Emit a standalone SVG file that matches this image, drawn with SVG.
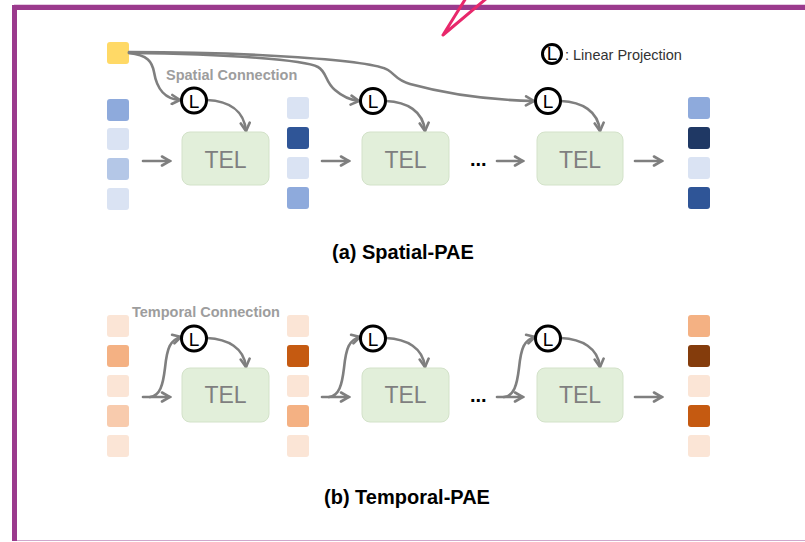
<svg xmlns="http://www.w3.org/2000/svg" width="805" height="542" viewBox="0 0 805 542">
<style>
.tel{fill:#e2efda;stroke:#d3e2c9;stroke-width:1}
.telt{font-family:"Liberation Sans",Arial,sans-serif;font-size:23px;fill:#7f7f7f;text-anchor:middle}
.con{fill:none;stroke:#7f7f7f;stroke-width:2.6;stroke-linecap:round}
.lc{fill:#fff;stroke:#000;stroke-width:3}
.lt{font-family:"Liberation Sans",Arial,sans-serif;font-size:19px;fill:#000;text-anchor:middle}
.lab{font-family:"Liberation Sans",Arial,sans-serif;font-size:14.5px;font-weight:bold;fill:#9d9d9d}
.title{font-family:"Liberation Sans",Arial,sans-serif;font-size:20px;font-weight:bold;fill:#000}
.dots{font-family:"Liberation Sans",Arial,sans-serif;font-size:20px;font-weight:bold;fill:#000}
</style>
<defs>
<marker id="ah" markerUnits="userSpaceOnUse" viewBox="0 0 12 12" refX="10" refY="6" markerWidth="12" markerHeight="12" orient="auto">
<path d="M2,1.5 L10,6 L2,10.5" fill="none" stroke="#7f7f7f" stroke-width="2.6" stroke-linejoin="miter" stroke-linecap="round"/>
</marker>
</defs>
<rect width="805" height="542" fill="#fff"/>
<g id="frame">
<line x1="14" y1="4.5" x2="805" y2="4.5" stroke="#e6cde3" stroke-width="1"/>
<path d="M14.5,541 V7.5 H806" fill="none" stroke="#9b3a8d" stroke-width="5"/>
<line x1="17" y1="540.5" x2="805" y2="540.5" stroke="#cfa8cc" stroke-width="1"/>
<path d="M466,-2 L443,35 L487,-2" fill="none" stroke="#e8286b" stroke-width="3" stroke-linejoin="round"/>
</g>
<g id="legend">
<circle class="lc" cx="552" cy="54" r="9.5" stroke-width="2.5"/>
<text class="lt" x="552" y="59.5" font-size="14">L</text>
<text x="565" y="60" font-family="Liberation Sans,Arial,sans-serif" font-size="14.5" fill="#333333">: Linear Projection</text>
</g>
<g id="spatial-tokens">
<rect x="107" y="42" width="22" height="22" rx="3" fill="#ffd966"/>
<rect x="107" y="99" width="22" height="22" rx="3" fill="#8eaadc"/>
<rect x="107" y="128" width="22" height="22" rx="3" fill="#dae3f3"/>
<rect x="107" y="158" width="22" height="22" rx="3" fill="#b4c7e7"/>
<rect x="107" y="188" width="22" height="22" rx="3" fill="#dae3f3"/>
<rect x="287" y="97" width="22" height="22" rx="3" fill="#dae3f3"/>
<rect x="287" y="127" width="22" height="22" rx="3" fill="#2f5597"/>
<rect x="287" y="157" width="22" height="22" rx="3" fill="#dae3f3"/>
<rect x="287" y="187" width="22" height="22" rx="3" fill="#8eaadc"/>
<rect x="688" y="97" width="22" height="22" rx="3" fill="#8eaadc"/>
<rect x="688" y="127" width="22" height="22" rx="3" fill="#1f3864"/>
<rect x="688" y="157" width="22" height="22" rx="3" fill="#dae3f3"/>
<rect x="688" y="187" width="22" height="22" rx="3" fill="#2f5597"/>
</g>
<g id="temporal-tokens">
<rect x="107" y="315" width="22" height="22" rx="3" fill="#fbe5d6"/>
<rect x="107" y="345" width="22" height="22" rx="3" fill="#f4b183"/>
<rect x="107" y="375" width="22" height="22" rx="3" fill="#fbe5d6"/>
<rect x="107" y="405" width="22" height="22" rx="3" fill="#f8cbad"/>
<rect x="107" y="435" width="22" height="22" rx="3" fill="#fbe5d6"/>
<rect x="287" y="315" width="22" height="22" rx="3" fill="#fbe5d6"/>
<rect x="287" y="345" width="22" height="22" rx="3" fill="#c55a11"/>
<rect x="287" y="375" width="22" height="22" rx="3" fill="#fbe5d6"/>
<rect x="287" y="405" width="22" height="22" rx="3" fill="#f4b183"/>
<rect x="287" y="435" width="22" height="22" rx="3" fill="#fbe5d6"/>
<rect x="688" y="315" width="22" height="22" rx="3" fill="#f4b183"/>
<rect x="688" y="345" width="22" height="22" rx="3" fill="#843c0c"/>
<rect x="688" y="375" width="22" height="22" rx="3" fill="#fbe5d6"/>
<rect x="688" y="405" width="22" height="22" rx="3" fill="#c55a11"/>
<rect x="688" y="435" width="22" height="22" rx="3" fill="#fbe5d6"/>
</g>
<g id="connectors">
<path class="con" marker-end="url(#ah)" d="M129,53 C148,55 152,62 154,72 C157,90 165,99 180,100"/>
<path class="con" marker-end="url(#ah)" d="M129,53 C230,54 305,60 318,67 C327,72 325,82 335,90 C343,97 350,100 359,101"/>
<path class="con" marker-end="url(#ah)" d="M129,52 C250,52 372,60 388,70 C396,75 396,80 410,84 C450,95 490,100 534,101"/>
<path class="con" marker-end="url(#ah)" d="M207,100 C228,101 244,110 246,131"/>
<path class="con" marker-end="url(#ah)" d="M386,101 C407,102 423,111 425,131"/>
<path class="con" marker-end="url(#ah)" d="M561,101 C582,102 598,111 600,131"/>
<path class="con" marker-end="url(#ah)" d="M143,161 H170"/>
<path class="con" marker-end="url(#ah)" d="M322,161 H349"/>
<path class="con" marker-end="url(#ah)" d="M497,161 H523"/>
<path class="con" marker-end="url(#ah)" d="M635,161 H662"/>
<path class="con" marker-end="url(#ah)" d="M143,397 H170"/>
<path class="con" marker-end="url(#ah)" d="M322,397 H349"/>
<path class="con" marker-end="url(#ah)" d="M497,397 H523"/>
<path class="con" marker-end="url(#ah)" d="M635,397 H662"/>
<path class="con" marker-end="url(#ah)" d="M150,397 C160,396 163,385 165,368 C167,348 170,340 181,337"/>
<path class="con" marker-end="url(#ah)" d="M329,397 C339,396 342,385 344,368 C346,348 349,340 360,337"/>
<path class="con" marker-end="url(#ah)" d="M504,397 C514,396 517,385 519,368 C521,348 524,340 535,337"/>
<path class="con" marker-end="url(#ah)" d="M207,338 C228,339 244,348 246,367"/>
<path class="con" marker-end="url(#ah)" d="M386,338 C407,339 423,348 425,367"/>
<path class="con" marker-end="url(#ah)" d="M561,338 C582,339 598,348 600,367"/>
</g>
<g id="s-L1"><circle class="lc" cx="194" cy="100.5" r="12.5"/><text class="lt" x="194" y="107.5">L</text></g>
<g id="s-L2"><circle class="lc" cx="373" cy="101" r="12.5"/><text class="lt" x="373" y="108">L</text></g>
<g id="s-L3"><circle class="lc" cx="548" cy="101" r="12.5"/><text class="lt" x="548" y="108">L</text></g>
<g id="t-L1"><circle class="lc" cx="194" cy="338.5" r="12.5"/><text class="lt" x="194" y="345.5">L</text></g>
<g id="t-L2"><circle class="lc" cx="373" cy="338.5" r="12.5"/><text class="lt" x="373" y="345.5">L</text></g>
<g id="t-L3"><circle class="lc" cx="548" cy="338.5" r="12.5"/><text class="lt" x="548" y="345.5">L</text></g>
<g id="s-TEL1"><rect class="tel" x="182" y="132" width="87" height="53" rx="8"/><text class="telt" x="225.5" y="168">TEL</text></g>
<g id="s-TEL2"><rect class="tel" x="362" y="132" width="87" height="53" rx="8"/><text class="telt" x="405.5" y="168">TEL</text></g>
<g id="s-TEL3"><rect class="tel" x="537" y="132" width="86" height="53" rx="8"/><text class="telt" x="580" y="168">TEL</text></g>
<g id="t-TEL1"><rect class="tel" x="182" y="368" width="87" height="54" rx="8"/><text class="telt" x="225.5" y="403">TEL</text></g>
<g id="t-TEL2"><rect class="tel" x="362" y="368" width="87" height="54" rx="8"/><text class="telt" x="405.5" y="403">TEL</text></g>
<g id="t-TEL3"><rect class="tel" x="537" y="368" width="86" height="54" rx="8"/><text class="telt" x="580" y="403">TEL</text></g>
<g id="labels">
<text class="dots" x="470" y="166">...</text>
<text class="dots" x="470" y="402">...</text>
<text class="lab" x="166" y="80">Spatial Connection</text>
<text class="lab" x="132" y="317">Temporal Connection</text>
<text class="title" x="332" y="259">(a) Spatial-PAE</text>
<text class="title" x="324" y="504">(b) Temporal-PAE</text>
</g>
</svg>
